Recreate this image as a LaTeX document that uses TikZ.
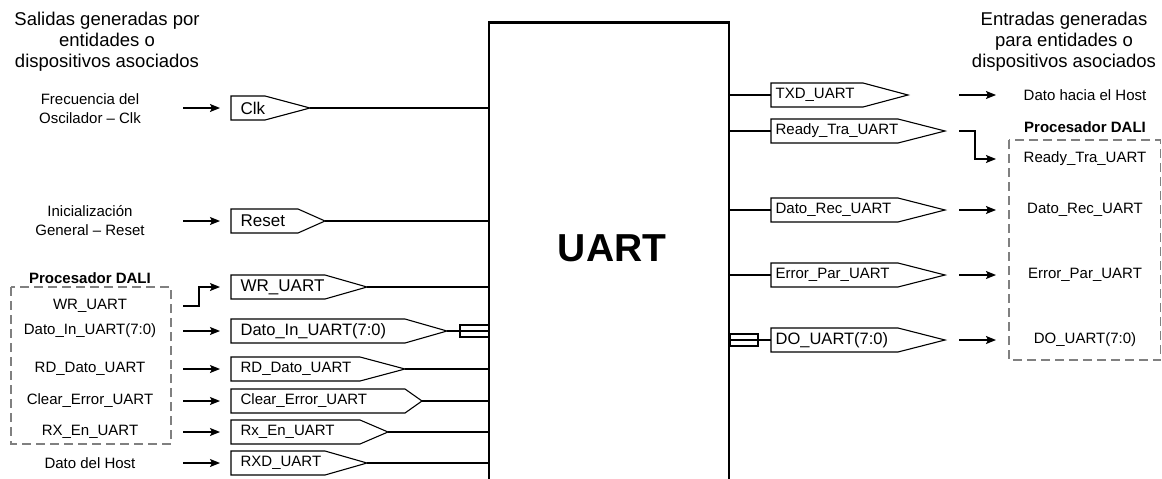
\documentclass[tikz,border=0pt]{standalone}
\usepackage{fontspec}
\setmainfont{Liberation Sans}
\usetikzlibrary{arrows.meta}

\begin{document}
\begin{tikzpicture}[x=1pt,y=-1pt,line width=1.3pt,>={Stealth[length=10pt,width=8pt,inset=2pt]},
  sigbox/.style={line width=1.1pt,line join=miter},
  siglab/.style={anchor=west,inner sep=2pt,font=\fontsize{15}{15}\selectfont},
  etiq/.style={align=center,inner sep=0pt,font=\fontsize{15}{19}\selectfont},
  titulo/.style={align=center,inner sep=0pt,font=\fontsize{18.5}{21}\selectfont},
  grupo/.style={draw=gray,dashed,dash pattern=on 9pt off 5pt,line width=1.2pt},
  bus/.style={line width=1.1pt}]
\useasboundingbox (0,0) rectangle (1162,479);
% ---------- bloque UART ----------
\node[draw,line width=2.6pt,minimum width=240,minimum height=520,anchor=north] (uart) at (609,21) {};
\node[font=\fontsize{39}{39}\selectfont\bfseries] (uartlab) at (612,248) {UART};
% ---------- titulos ----------
\node[titulo] (tizq) at (107,42) {Salidas generadas por\\entidades o\\dispositivos asociados};
\node[titulo] (tder) at (1064,42) {Entradas generadas\\para entidades o\\dispositivos asociados};
% ---------- lado izquierdo ----------
\node[etiq] (fclk) at (90,109) {Frecuencia del\\Oscilador – Clk};
\node[etiq] (frst) at (90,221) {Inicialización\\General – Reset};
\node[etiq] (host) at (90,463) {Dato del Host};
\draw[grupo] (11,287) rectangle (171,444);
\node[etiq,font=\fontsize{15}{15}\selectfont\bfseries] (daliA) at (90,278) {Procesador DALI};
\foreach \n/\y/\lab in {lwr/306/WR\_UART,ldin/331/Dato\_In\_UART(7:0),lrd/369/RD\_Dato\_UART,
    lclr/401/Clear\_Error\_UART,lrx/432/RX\_En\_UART}
  \node[etiq] (\n) at (90,\y) {\lab};
% senales de entrada (pentagonos)
\foreach \n/\y/\xa/\xb/\lab/\fs in {clk/108/265/310/Clk/17,rst/221/298/325/Reset/17,
    wr/287/325/367/WR\_UART/17,din/331/405/447/Dato\_In\_UART(7:0)/16.5,
    rd/369/360/405/RD\_Dato\_UART/15,clr/401/405/422/Clear\_Error\_UART/15,
    rxen/432/360/388/Rx\_En\_UART/15,rxd/463/325/367/RXD\_UART/15}{
  \draw[sigbox] (231,\y-12) -- (\xa,\y-12) -- (\xb,\y) -- (\xa,\y+12) -- (231,\y+12) -- cycle;
  \node[siglab,font=\fontsize{\fs}{\fs}\selectfont] (\n) at (238,\y) {\lab};
  \coordinate (\n-in) at (220,\y);
  \coordinate (\n-tip) at (\xb,\y);
  \draw (\n-tip) -- (\n-tip -| uart.west);
}
% flechas hacia las senales
\foreach \n/\y in {clk/108,rst/221,din/331,rd/369,clr/401,rxen/432,rxd/463}{
  \coordinate (o-\n) at (183,\y);
  \draw[->] (o-\n) -- (\n-in);
}
\coordinate (o-wr) at (183,306);
\draw[->] (o-wr) -- ++(16,0) |- (wr-in);
% bus de datos
\draw[bus] (460,325) rectangle (489,337);
% ---------- lado derecho ----------
\draw[grupo] (1009,140) rectangle (1160.5,360);
\node[etiq,font=\fontsize{15}{15}\selectfont\bfseries] (daliB) at (1085,127) {Procesador DALI};
\node[etiq] (rhost) at (1085,95) {Dato hacia el Host};
\foreach \n/\y/\lab in {rrdy/159/Ready\_Tra\_UART,rrec/210/Dato\_Rec\_UART,
    rerr/275/Error\_Par\_UART,rdo/340/DO\_UART(7:0)}
  \node[etiq] (\n) at (1085,\y) {\lab};
% senales de salida (pentagonos)
\foreach \n/\y/\xa/\xb/\lab/\fs in {txd/95/863/908/TXD\_UART/15,rdy/131/898/945/Ready\_Tra\_UART/15,
    rec/210/898/945/Dato\_Rec\_UART/15,err/275/898/945/Error\_Par\_UART/15,
    dout/340/898/945/DO\_UART(7:0)/16.5}{
  \draw[sigbox] (771,\y-12) -- (\xa,\y-12) -- (\xb,\y) -- (\xa,\y+12) -- (771,\y+12) -- cycle;
  \node[siglab,font=\fontsize{\fs}{\fs}\selectfont] (\n) at (773,\y) {\lab};
  \coordinate (\n-in) at (771,\y);
  \coordinate (\n-out) at (959,\y);
  \draw (uart.east |- \n-in) -- (\n-in);
}
% flechas hacia los destinos
\foreach \n/\y in {txd/95,rec/210,err/275,dout/340}{
  \coordinate (d-\n) at (996,\y);
  \draw[->] (\n-out) -- (d-\n);
}
\coordinate (d-rdy) at (996,159);
\draw[->] (rdy-out) -- ++(16,0) |- (d-rdy);
\draw[bus] (730,334) rectangle (758,346);
\end{tikzpicture}
\end{document}
